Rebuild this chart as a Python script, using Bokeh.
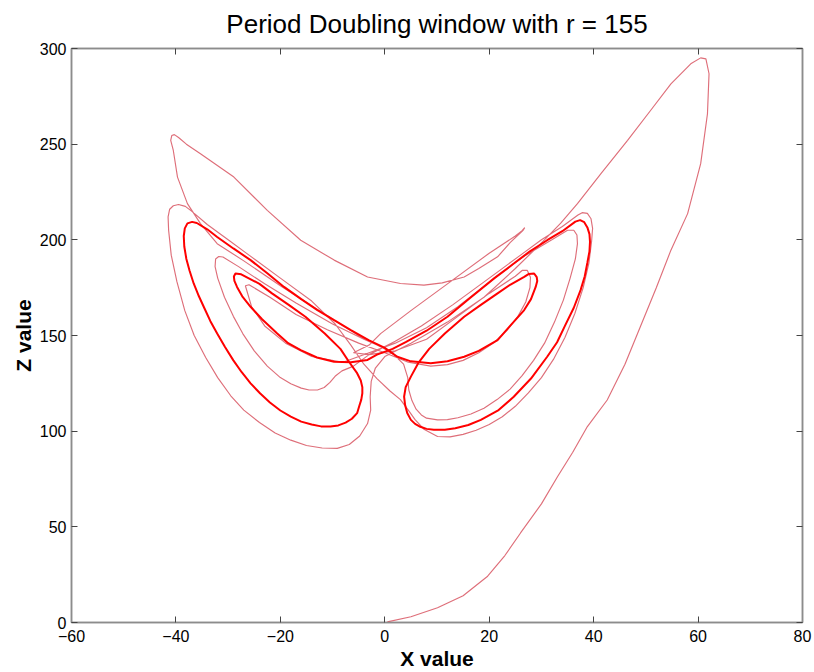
from bokeh.plotting import figure
from bokeh.models import Range1d, FixedTicker, LinearAxis
from bokeh.embed import file_html
from bokeh.resources import INLINE

# Lorenz trajectory (X vs Z), r = 155: transient part, thin line
trans_x = [0.5, 5.0, 10.1, 15.0, 19.7, 23.0, 26.0, 30.0, 33.1, 36.0, 38.8, 42.6, 46.0, 49.0, 52.0, 54.8,
           58.0, 60.5, 61.8, 62.1, 61.5, 60.5, 58.6, 54.8, 50.9, 46.5, 41.4, 36.9, 33.7, 29.5, 25.0,
           19.0, 12.0, 5.0, 0.0,
           -1.8, -2.6, -2.8, -2.7, -3.3, -4.8, -6.8, -9.1, -12.0, -15.0, -18.0, -21.0, -24.0, -27.0,
           -29.5, -32.0, -34.3, -36.5, -38.3, -39.8, -40.9, -41.4, -41.5, -41.2, -40.5, -39.5, -38.2,
           -37.0, -34.0, -30.0, -26.0, -20.0, -14.0, -9.5, -6.5, -4.0, -1.5, 1.0, 3.0, 4.5, 5.8, 7.5,
           10.1, 12.5, 15.0, 17.5, 20.0, 22.5, 25.0, 27.5, 30.0,
           32.3, 34.5, 36.4, 38.0, 39.1, 39.6, 39.8, 39.5, 38.8, 37.8, 37.0, 34.0, 30.0, 26.0, 20.0,
           13.0, 7.0, 2.0, -3.0,
           -6.0, -8.2, -9.4, -10.5, -11.6, -12.9, -14.5, -16.0, -18.0, -20.0, -22.5, -25.0, -27.2,
           -29.0, -30.7, -32.0, -32.5, -32.4, -31.8, -31.0, -28.0, -23.0, -17.0, -10.0, -4.0, 1.0,
           3.6, 4.4, 4.6, 5.2, 6.0, 7.0, 8.0, 10.1, 12.0, 14.0, 16.5, 19.0, 21.5, 24.0, 26.3, 28.5,
           30.6, 32.5, 34.2, 35.5, 36.5, 36.9, 36.8, 36.2, 35.0, 32.0, 27.0, 21.0, 14.0, 8.0, 2.0, -3.0,
           -8.0, -14.0, -19.0, -23.0, -25.5, -26.7, -26.0, -22.0, -17.0, -11.0, -5.0, 0.0,
           4.5, 8.8, 12.0, 15.0, 18.0, 21.0, 23.5, 25.5, 27.0, 27.8, 27.9, 27.3, 26.3, 25.0, 20.0,
           14.0, 8.0, 2.0, -3.0, -6.0,
           -3.0, -0.8, 5.0, 12.0, 20.0, 25.0, 26.3, 26.8, 26.5, 24.0, 21.6, 18.0, 15.2, 11.0, 7.5, 3.0,
           -3.3, -9.7, -16.1, -22.5, -28.9, -35.3, -38.0, -39.5, -40.3, -40.8, -41.0, -40.5, -39.7,
           -37.8, -35.3, -32.1, -27.0, -20.0, -12.0, -5.0, 0.0, 2.4]
trans_z = [0.3, 3.0, 7.7, 14.0, 24.2, 35.0, 46.8, 62.0, 76.3, 89.0, 102.4, 116.3, 135.0, 155.0, 175.0, 194.6,
           213.7, 239.8, 265.9, 286.8, 294.6, 295.1, 292.0, 281.5, 267.6, 252.0, 234.6, 218.9, 208.7, 197.0, 185.0,
           170.0, 157.0, 146.0, 139.0,
           133.0, 126.0, 118.0, 111.0, 104.0, 97.5, 93.0, 91.0, 91.2, 92.5, 95.3, 99.0, 104.5, 111.0,
           118.5, 128.0, 138.5, 150.0, 163.0, 178.0, 192.0, 205.0, 212.0, 216.0, 217.8, 218.5, 217.5,
           215.0, 208.0, 200.0, 192.0, 180.0, 168.0, 156.0, 145.0, 135.0, 127.5, 121.0, 116.5, 111.0, 106.0, 101.0,
           97.2, 97.0, 98.3, 100.5, 103.5, 107.5, 113.0, 120.0, 128.0,
           137.5, 149.0, 161.5, 175.0, 188.0, 199.0, 206.0, 211.0, 213.8, 214.2, 213.0, 207.0, 200.0, 192.0, 180.0,
           166.0, 155.0, 147.0, 140.0,
           134.0, 131.5, 129.0, 125.5, 122.8, 121.5, 121.5, 122.5, 124.8, 128.0, 134.0, 142.0, 151.0,
           160.0, 170.0, 180.0, 186.0, 190.0, 191.3, 191.0, 186.0, 177.0, 167.0, 156.0, 148.0, 142.0,
           135.0, 128.0, 121.5, 116.0, 111.5, 108.5, 106.8, 105.9, 106.0, 107.0, 109.0, 112.0, 116.5, 122.0, 129.0, 137.0,
           146.0, 157.0, 168.5, 180.0, 190.0, 198.0, 202.5, 205.0, 205.0, 200.0, 192.0, 180.0, 165.0, 154.0, 146.0, 141.0,
           136.0, 139.0, 146.0, 155.0, 165.0, 176.0, 176.5, 170.0, 161.0, 153.0, 146.0, 141.0,
           136.0, 134.0, 134.8, 137.0, 141.0, 146.5, 153.0, 160.0, 167.5, 175.0, 180.5, 184.0, 184.0, 181.0, 172.0,
           160.0, 148.0, 142.0, 140.0, 141.0,
           145.0, 151.0, 163.0, 177.0, 193.0, 202.0, 204.8, 206.4, 205.0, 198.5, 191.1, 185.0, 180.6, 177.5, 176.3, 177.2,
           180.6, 189.4, 199.8, 215.4, 232.8, 245.0, 250.0, 253.5, 255.0, 254.5, 252.0, 246.7, 232.8,
           218.9, 208.5, 198.0, 189.0, 176.0, 162.0, 150.0, 143.0, 138.9]

# Settled period-doubled orbit, heavier because it is traversed many times
orbit_x = [2.4, 5.0, 8.8, 12.0, 15.2, 18.0, 21.6, 24.0, 26.7, 28.0, 28.9, 29.2, 29.1, 28.6, 27.6, 26.7, 24.0, 21.6,
           18.4, 15.2, 11.5, 8.5, 6.5, 5.0, 4.0, 3.7, 3.9, 4.3, 5.0, 5.8, 6.8, 8.0, 9.4, 11.5, 13.5, 16.0, 18.4,
           21.8, 24.7, 28.0, 31.1, 33.0, 34.5, 36.2, 37.5, 38.3, 38.8, 39.2, 39.3, 39.2, 38.8, 38.2, 37.4,
           36.5, 34.0, 31.1, 27.8, 24.7, 21.0, 16.5, 12.0, 8.0, 4.0, 1.5, -1.5, -3.3, -6.5, -9.7, -13.0,
           -16.1, -18.5, -20.6, -23.5, -25.7, -27.3, -28.3, -28.8, -28.9, -28.6, -27.5, -24.0, -21.6, -18.4,
           -15.2, -11.5, -8.5, -6.8, -5.3, -4.6, -4.3, -4.3, -4.5, -4.9, -5.3, -6.3, -7.5, -8.9, -10.4,
           -12.2, -14.0, -16.0, -18.0, -20.0, -22.0, -23.9, -25.7, -27.4, -29.0, -30.6, -32.1, -33.4,
           -34.5, -35.6, -36.6, -37.4, -38.0, -38.4, -38.5, -38.3, -37.8, -36.9, -36.0, -34.0, -32.1, -29.0,
           -25.7, -22.5, -19.3, -16.0, -12.9, -9.7, -6.5, -3.0, 0.0, 2.4]
orbit_z = [138.9, 136.5, 135.5, 136.5, 138.9, 142.0, 147.6, 155.0, 163.3, 169.0, 175.4, 178.5, 180.5, 182.4, 182.2, 180.6, 176.5, 172.0,
           166.0, 159.8, 151.0, 143.0, 136.0, 128.5, 123.0, 118.0, 113.5, 109.5, 105.9, 103.8, 102.3, 101.2, 100.7, 100.8, 101.5, 103.2, 105.9,
           111.0, 118.0, 127.5, 138.9, 146.5, 155.0, 164.5, 173.7, 181.0, 188.0, 194.0, 199.0, 203.0, 206.5, 209.2, 210.3,
           209.5, 204.5, 199.8, 194.0, 187.6, 180.0, 170.0, 159.8, 152.5, 146.5, 143.0, 140.0, 137.2, 136.0, 136.3, 138.5,
           142.4, 146.0, 151.1, 158.5, 165.0, 170.5, 175.4, 178.5, 180.8, 182.4, 182.0, 177.0, 172.0, 166.0,
           159.8, 151.0, 143.0, 136.0, 130.3, 126.5, 123.0, 119.8, 116.5, 113.0, 109.4, 106.5, 104.5, 103.0, 102.4,
           102.5, 103.5, 105.0, 107.6, 110.8, 115.0, 119.8, 125.0, 130.8, 137.0, 144.0, 151.1, 157.5,
           164.0, 170.5, 177.2, 184.0, 190.0, 196.5, 202.0, 206.0, 208.6, 209.4, 208.8, 205.5, 201.5, 195.5,
           189.4, 182.5, 175.4, 169.0, 163.3, 158.0, 152.8, 147.5, 143.5, 138.9]

x_ticks = [-60, -40, -20, 0, 20, 40, 60, 80]
z_ticks = [0, 50, 100, 150, 200, 250, 300]

FONT = "Liberation Sans"
GRAY = "#8c8c8c"

p = figure(width=814, height=672, x_range=Range1d(-60, 80), y_range=Range1d(0, 300),
           output_backend="svg", toolbar_location=None,
           min_border_left=71, min_border_right=12, min_border_top=48, min_border_bottom=49,
           title="Period Doubling window with r = 155")
p.background_fill_color = "white"
p.border_fill_color = "white"
p.outline_line_color = GRAY
p.outline_line_width = 1.5
p.grid.visible = False

p.title.align = "center"
p.title.vertical_align = "top"
p.title.text_font = FONT
p.title.text_font_size = "26px"
p.title.text_font_style = "normal"
p.title.text_color = "black"
p.title.standoff = 16

p.xaxis.axis_label = "X value"
p.yaxis.axis_label = "Z value"

for ax in p.xaxis + p.yaxis:
    ax.axis_line_color = GRAY
    ax.axis_line_width = 1.5
    ax.major_tick_in = 6
    ax.major_tick_out = 0
    ax.major_tick_line_color = "#444444"
    ax.minor_tick_line_color = None
    ax.major_label_text_font = FONT
    ax.major_label_text_font_size = "16px"
    ax.major_label_text_color = "black"
    ax.axis_label_text_font = FONT
    ax.axis_label_text_font_size = "21px"
    ax.axis_label_text_font_style = "bold"
    ax.axis_label_text_color = "black"
    ax.axis_label_standoff = 2

p.xaxis.major_label_standoff = 7
p.yaxis.major_label_standoff = 5

p.xaxis.ticker = FixedTicker(ticks=x_ticks)
p.yaxis.ticker = FixedTicker(ticks=z_ticks)

# box ticks on top and right, no labels there
top = LinearAxis(ticker=FixedTicker(ticks=x_ticks), major_label_text_color=None,
                 major_tick_in=6, major_tick_out=0, minor_tick_line_color=None,
                 axis_line_color=GRAY, axis_line_width=1.5, major_tick_line_color="#444444",
                 major_label_text_font_size="1px")
right = LinearAxis(ticker=FixedTicker(ticks=z_ticks), major_label_text_color=None,
                   major_tick_in=6, major_tick_out=0, minor_tick_line_color=None,
                   axis_line_color=GRAY, axis_line_width=1.5, major_tick_line_color="#444444",
                   major_label_text_font_size="1px")
p.add_layout(top, "above")
p.add_layout(right, "right")

p.line(trans_x, trans_z, line_color="#d64a58", line_width=1.15, line_alpha=0.8)
p.line(orbit_x, orbit_z, line_color="#ff0000", line_width=2.0)

open("out.html", "w").write(file_html(p, INLINE))
